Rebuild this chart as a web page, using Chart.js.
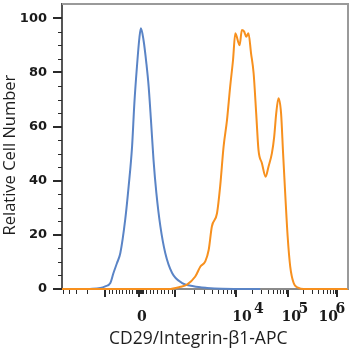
<!DOCTYPE html>
<html>
<head>
<meta charset="utf-8">
<script src="https://cdn.jsdelivr.net/npm/chart.js@4.4.1/dist/chart.umd.min.js"></script>
<style>
  html, body { margin: 0; padding: 0; background: #fff; }
  #wrap { width: 354px; height: 350px; }
</style>
</head>
<body>
<div id="wrap"><canvas id="histo"></canvas></div>
<script>
// x values are display channels (0-1000) on the biexponential axis
const blueX = [92, 134, 151, 169, 180, 192, 204, 221, 233, 245, 253, 262, 271, 276, 285, 295, 303, 311, 320, 330, 344, 361, 385, 420, 460, 507, 560, 693];
const blueY = [0, 0.4, 1, 2.2, 5.9, 9.5, 13.3, 25.6, 37.9, 52.6, 68.6, 82.1, 93.2, 96.3, 92, 83.4, 74.8, 62.5, 47.7, 35.4, 23.1, 13.3, 5.9, 2.2, 1, 0.4, 0.1, 0];

const orangeX = [0, 373, 414, 437, 466, 484, 501, 513, 524, 542, 553, 565, 577, 588, 598, 606, 621, 629, 637, 644, 652, 661, 670, 679, 687, 699, 712, 722, 734, 742, 749, 757, 766, 773, 781, 789, 798, 810, 827, 845, 1000];
const orangeY = [0, 0, 0.8, 1.6, 4.6, 8.3, 10.2, 14.5, 23.1, 28, 37.9, 52.6, 62.5, 74.8, 84.6, 94.5, 90.1, 95.7, 95.1, 93.2, 94.5, 87.1, 79.7, 64.9, 51.4, 46.5, 41.5, 45.2, 50.2, 56.3, 64.9, 70.5, 64.9, 50.2, 34.2, 19.4, 8.3, 2.2, 0.4, 0, 0];

// major ticks: -10^3, 0, 10^3, 10^4, 10^5, 10^6
const xMajorTicks = [152, 269, 396, 610, 791, 963];
// [exponent line, base line]
const xTickLabels = [
	['', ''],
	['', '0'],
	['', ''],
	['        4', ' 10'],
	['     5', '10'],
	['6', '10     ']
];
const yTicks = [0, 20, 40, 60, 80, 100];

//minor tick marks
function decadeMinors(a, b) {
	const out = [];
	for (let m = 2; m <= 9; m++) out.push(a + (b - a) * Math.log10(m));
	return out;
}
const nearZero = [0.02, 0.04, 0.06, 0.08, 0.1, 0.2, 0.3, 0.4, 0.5, 0.6, 0.7, 0.8, 0.9];
const xMinor = [
	...decadeMinors(152, 152 - 214).filter((v) => v > 0),
	...nearZero.map((f) => 269 - f * (269 - 152)),
	...nearZero.map((f) => 269 + f * (396 - 269)),
	...decadeMinors(396, 610),
	...decadeMinors(610, 791),
	...decadeMinors(791, 963)
];
const yMinor = [];
for (let v = 5; v < 105; v += 5) if (v % 20 !== 0) yMinor.push(v);

const toPoints = (xs, ys) => xs.map((x, i) => ({ x: x, y: ys[i] }));

const axisMarks = {
	id: 'axisMarks',
	afterDraw(chart) {
		const { ctx, chartArea: a, scales: { x, y } } = chart;
		ctx.save();
		ctx.strokeStyle = '#9a9a9a';
		ctx.lineWidth = 2;
		ctx.beginPath();
		ctx.moveTo(a.left, a.top);
		ctx.lineTo(a.right, a.top);
		ctx.lineTo(a.right, a.bottom);
		ctx.stroke();

		ctx.strokeStyle = '#2a2a2a';
		const mark = (x1, y1, x2, y2, w) => {
			ctx.lineWidth = w;
			ctx.beginPath();
			ctx.moveTo(x1, y1);
			ctx.lineTo(x2, y2);
			ctx.stroke();
		};
		xMinor.forEach((v) => {
			const px = Math.round(x.getPixelForValue(v)) + 0.5;
			mark(px, a.bottom + 1, px, a.bottom + 5, 1);
		});
		xMajorTicks.forEach((v) => {
			const px = Math.round(x.getPixelForValue(v));
			mark(px, a.bottom + 1, px, a.bottom + 8, 2);
		});
		yMinor.forEach((v) => {
			const py = Math.round(y.getPixelForValue(v)) + 0.5;
			mark(a.left - 4, py, a.left, py, 1);
		});
		yTicks.forEach((v) => {
			const py = Math.round(y.getPixelForValue(v));
			mark(a.left - 9, py, a.left, py, 2);
		});
		ctx.restore();
	}
};

const ctx = document.querySelector('#histo').getContext('2d');
const histoChart = new Chart(ctx, {
	type: 'line',
	data: {
		datasets: [
			{
				label: 'CD29',
				data: toPoints(orangeX, orangeY),
				borderColor: '#f7901e',
				borderWidth: 2,
				pointRadius: 0,
				cubicInterpolationMode: 'monotone',
				clip: false,
				order: 0
			},
			{
				label: 'Isotype',
				data: toPoints(blueX, blueY),
				borderColor: '#5a84c6',
				borderWidth: 2,
				pointRadius: 0,
				cubicInterpolationMode: 'monotone',
				clip: false,
				order: 1
			}
		]
	},
	options: {
		responsive: true,
		maintainAspectRatio: false,
		animation: false,
		layout: { padding: { top: 4, right: 6, left: 0, bottom: 0 } },
		plugins: {
			legend: { display: false },
			tooltip: { enabled: false }
		},
		scales: {
			x: {
				type: 'linear',
				min: 0,
				max: 1000,
				afterBuildTicks: (scale) => {
					scale.ticks = xMajorTicks.map((v) => ({ value: v }));
				},
				afterFit: (scale) => {
					scale.height = 61;
					scale.paddingLeft = 0;
					scale.paddingRight = 0;
				},
				grid: { display: false, drawTicks: false },
				border: { display: true, color: '#8a8a8a', width: 2 },
				ticks: {
					autoSkip: false,
					maxRotation: 0,
					padding: 17,
					labelOffset: 3,
					color: '#1a1a1a',
					font: { family: 'DejaVu Serif', size: 14, weight: 'bold', lineHeight: 0.55 },
					callback: (value, index) => xTickLabels[index]
				},
				title: {
					display: true,
					text: 'CD29/Integrin-β1-APC   ',
					color: '#1e1e1e',
					font: { family: 'Open Sans', size: 17.5 },
					padding: { top: 0, bottom: 0 }
				}
			},
			y: {
				min: 0,
				max: 105.3,
				afterBuildTicks: (scale) => {
					scale.ticks = yTicks.map((v) => ({ value: v }));
				},
				afterFit: (scale) => {
					scale.width = 62;
					scale.paddingTop = 0;
					scale.paddingBottom = 0;
				},
				grid: { display: false, drawTicks: false },
				border: { display: true, color: '#555', width: 2 },
				ticks: {
					padding: 15,
					color: '#1a1a1a',
					font: { family: 'DejaVu Sans', size: 13, weight: 'bold' }
				},
				title: {
					display: true,
					text: 'Relative Cell Number    ',
					color: '#1e1e1e',
					font: { family: 'Open Sans', size: 16.5 },
					padding: { top: 0, bottom: 0 }
				}
			}
		}
	},
	plugins: [axisMarks]
});
</script>
</body>
</html>
